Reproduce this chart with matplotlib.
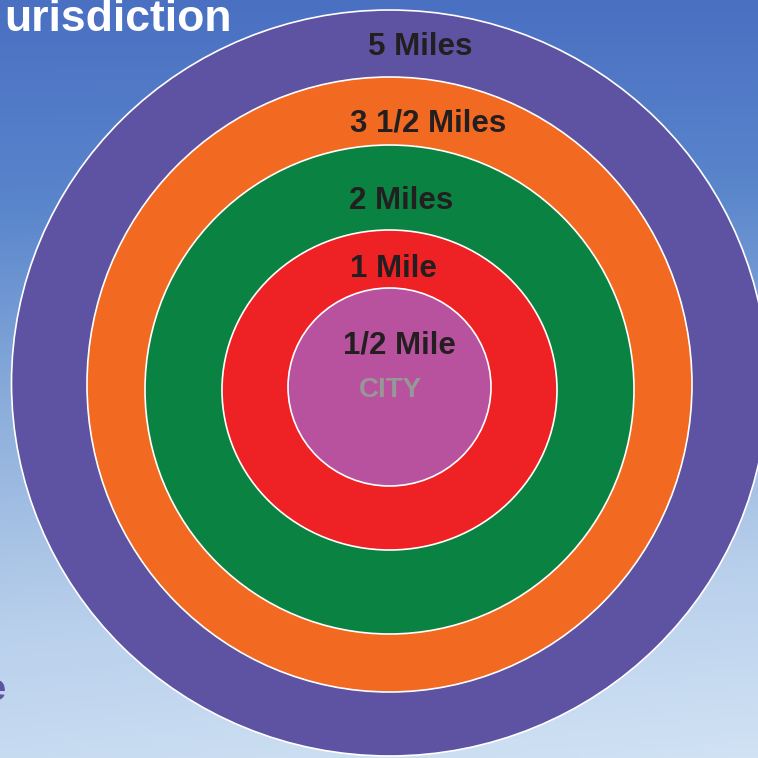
import numpy as np
import matplotlib
matplotlib.use("Agg")
import matplotlib.pyplot as plt
from matplotlib.patches import Ellipse
from matplotlib.colors import LinearSegmentedColormap

plt.rcParams['font.family'] = ['Liberation Sans', 'DejaVu Sans']

# ring data (outermost first)
labels = ["5 Miles", "3 1/2 Miles", "2 Miles", "1 Mile", "1/2 Mile"]
ring_w = [378, 302.5, 244.5, 167.5, 101.5]     # horizontal half-size
ring_h = [373, 307.5, 244.5, 160, 99]          # vertical half-size
ring_cy = [383, 384.5, 389.5, 390, 387]
colors = ["#5e52a3", "#f26922", "#0a8241", "#ee2125", "#b8529e"]
label_xy = [(420, 47), (428, 124), (401, 201), (393, 269), (399, 345)]
center_label = "CITY"
title = "urisdiction"

W = H = 758
fig = plt.figure(figsize=(7.58, 7.58), dpi=100)
ax = fig.add_axes([0, 0, 1, 1])
ax.set_xlim(0, W)
ax.set_ylim(H, 0)
ax.axis('off')

# sky background
yy, xx = np.mgrid[0:1:200j, 0:1:200j]
t = np.clip(0.75 * yy + 0.25 * yy * xx + 0.15 * (1 - xx) * yy, 0, 1)
cmap = LinearSegmentedColormap.from_list("sky", ["#4a70c2", "#5a86cc", "#8fb0dc", "#b9d0ec", "#d0e2f4"])
ax.imshow(t, cmap=cmap, extent=[0, W, H, 0], aspect='auto', zorder=0)

cx = 389.5
for w, h, cy, c in zip(ring_w, ring_h, ring_cy, colors):
    ax.add_patch(Ellipse((cx, cy), 2 * w, 2 * h, facecolor=c, edgecolor='white', lw=1.2, zorder=2))

for lab, (x, y) in zip(labels, label_xy):
    ax.text(x, y, lab, ha='center', va='center', fontsize=22.5, fontweight='bold', color='#231f20', zorder=3)

ax.text(390, 390, center_label, ha='center', va='center', fontsize=20, fontweight='bold', color='#979797', zorder=3)

ax.text(4, 31, title, ha='left', va='baseline', fontsize=32, fontweight='bold', color='white', zorder=3)
ax.text(-14, 700, "e", ha='left', va='baseline', fontsize=26, fontweight='bold', color='#5e52a3', zorder=3)

fig.savefig("out.png", dpi=100)
